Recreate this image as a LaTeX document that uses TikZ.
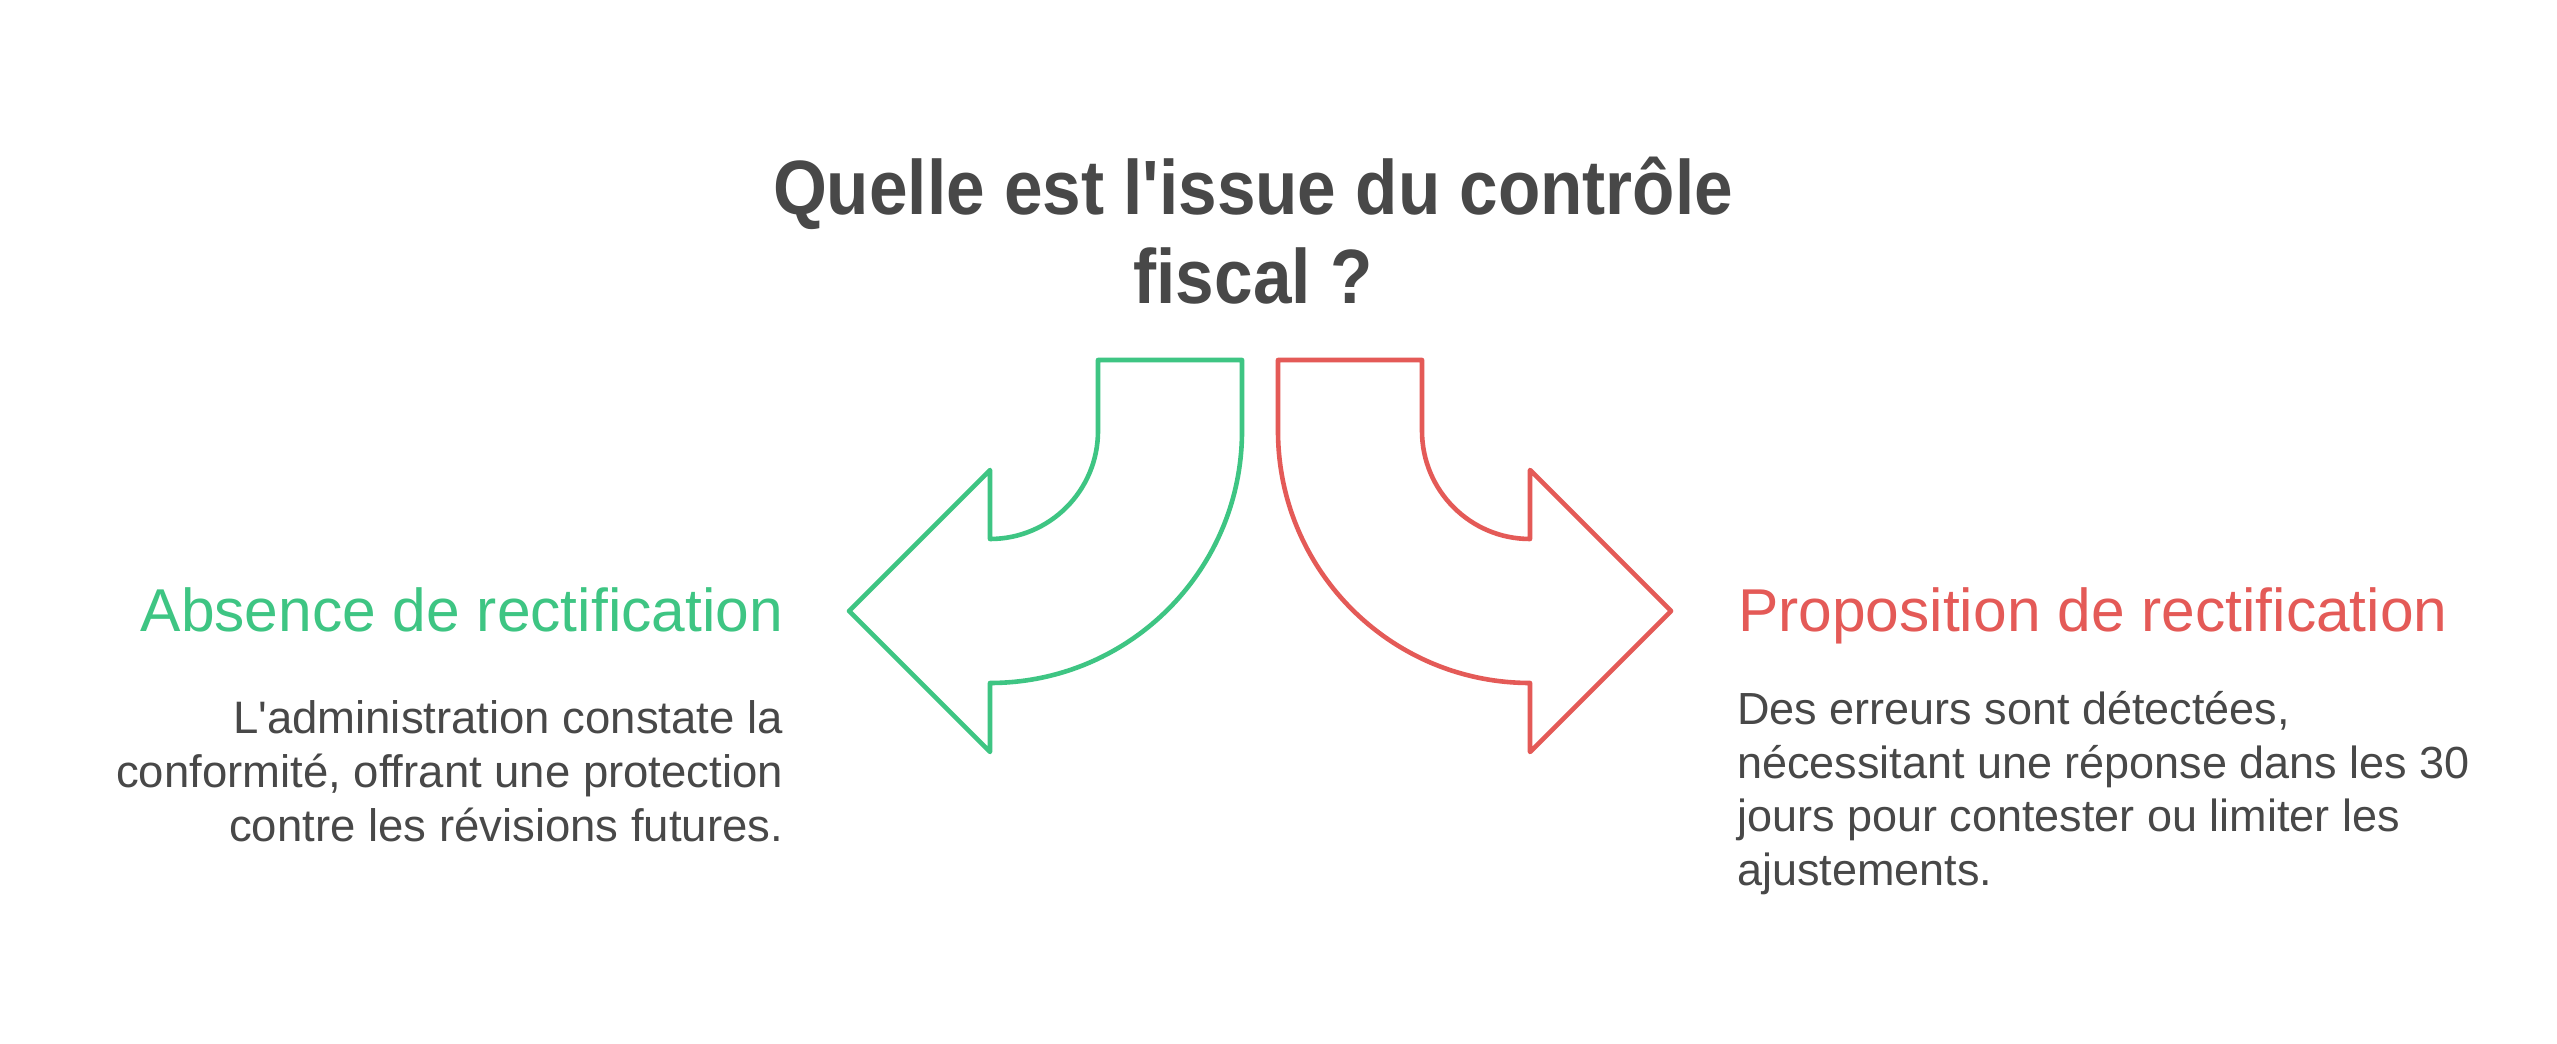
\documentclass[tikz,border=0pt]{standalone}
\usepackage{fontspec}
\setmainfont{Liberation Sans}[Ligatures=TeXOff]
\usepackage{graphicx}
\definecolor{okgreen}{HTML}{3EC583}
\definecolor{kored}{HTML}{E45A57}
\definecolor{ink}{HTML}{484848}
\tikzset{
  bigarrow/.style={line width=4.6pt, line join=round, fill=white},
  txt/.style={inner sep=0pt, outer sep=0pt},
}
\begin{document}
\begin{tikzpicture}[x=1pt,y=1pt]
\fill[white] (0,0) rectangle (2557,1044);
\useasboundingbox (0,0) rectangle (2557,1044);

% title
\node[txt, anchor=base, text=ink] (title) at (1253,829)
  {\fontsize{77}{89}\selectfont\bfseries\scalebox{0.9}[1]{\begin{tabular}[t]{@{}c@{}}Quelle est l'issue du contrôle\\ fiscal ?\end{tabular}}};

% green arrow (left)
\draw[bigarrow, draw=okgreen]
  (1098,684) -- (1242,684) -- (1242,613)
  arc[start angle=0, end angle=-90, radius=252]
  -- (990,292) -- (849,433) -- (990,574) -- (990,505)
  arc[start angle=-90, end angle=0, radius=108]
  -- cycle;

% red arrow (right)
\draw[bigarrow, draw=kored]
  (1422,684) -- (1278,684) -- (1278,613)
  arc[start angle=180, end angle=270, radius=252]
  -- (1530,292) -- (1671,433) -- (1530,574) -- (1530,505)
  arc[start angle=270, end angle=180, radius=108]
  -- cycle;

% left side
\node[txt, anchor=base east, text=okgreen] (lhead) at (783,412)
  {\fontsize{60.5}{70}\selectfont Absence de rectification};
\node[txt, anchor=base east, text=ink] (lbody) at (783,310)
  {\fontsize{45.5}{54}\selectfont\begin{tabular}[t]{@{}r@{}}L'administration constate la\\ conformité, offrant une protection\\ contre les révisions futures.\end{tabular}};

% right side
\node[txt, anchor=base west, text=kored] (rhead) at (1738,412)
  {\fontsize{60.5}{70}\selectfont Proposition de rectification};
\node[txt, anchor=base west, text=ink] (rbody) at (1737,319)
  {\fontsize{45}{53.5}\selectfont\begin{tabular}[t]{@{}l@{}}Des erreurs sont détectées,\\ nécessitant une réponse dans les 30\\ jours pour contester ou limiter les\\ ajustements.\end{tabular}};
\end{tikzpicture}
\end{document}
